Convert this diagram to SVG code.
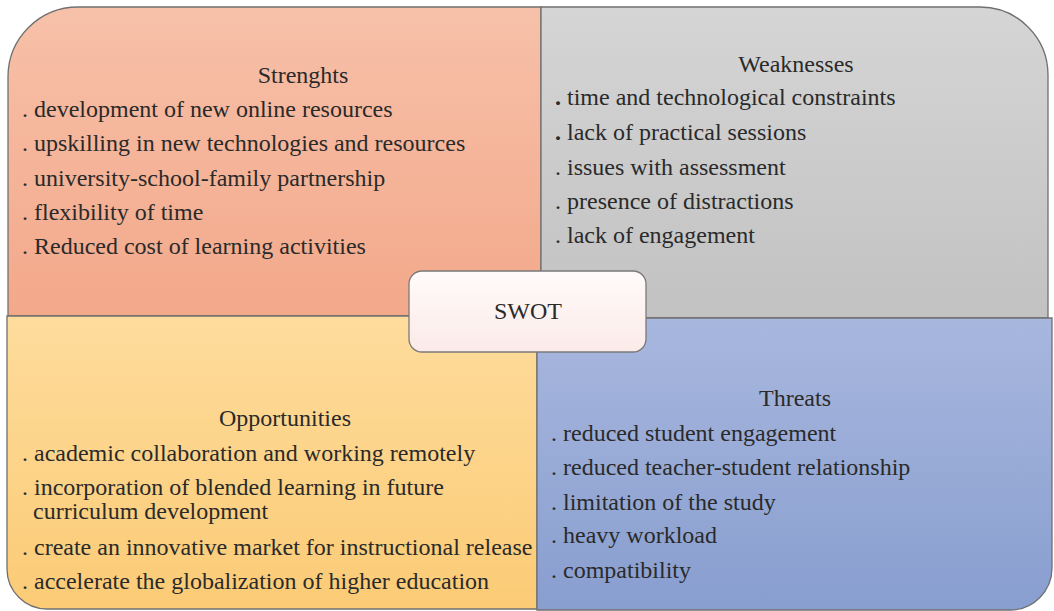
<svg xmlns="http://www.w3.org/2000/svg" width="1054" height="611" viewBox="0 0 1054 611">
  <defs>
    <linearGradient id="gS" x1="0" y1="0" x2="0" y2="1">
      <stop offset="0" stop-color="#f7c1a9"/>
      <stop offset="1" stop-color="#f3a88a"/>
    </linearGradient>
    <linearGradient id="gW" x1="0" y1="0" x2="0" y2="1">
      <stop offset="0" stop-color="#d5d5d5"/>
      <stop offset="1" stop-color="#c2c2c2"/>
    </linearGradient>
    <linearGradient id="gO" x1="0" y1="0" x2="0" y2="1">
      <stop offset="0" stop-color="#fedc9c"/>
      <stop offset="1" stop-color="#fbcb76"/>
    </linearGradient>
    <linearGradient id="gT" x1="0" y1="0" x2="0" y2="1">
      <stop offset="0" stop-color="#a8b7de"/>
      <stop offset="1" stop-color="#889ecf"/>
    </linearGradient>
    <linearGradient id="gC" x1="0" y1="0" x2="0" y2="1">
      <stop offset="0" stop-color="#fffbfa"/>
      <stop offset="1" stop-color="#fbeae8"/>
    </linearGradient>
  </defs>
  <style>
    .quad { stroke: #707070; stroke-width: 1.3; }
    .txt { font-family: "Liberation Serif", serif; font-size: 24px; fill: #2a2a2a; }
    .title { text-anchor: middle; }
    .b { font-weight: bold; }
  </style>

  <!-- Strengths (top left) -->
  <g id="strengths">
    <path class="quad" fill="url(#gS)" d="M8,316 L8,77 A70,70 0 0 1 78,7 L541,7 L541,316 Z"/>
    <text class="txt title" x="303" y="83">Strenghts</text>
    <text class="txt" x="22" y="117">. development of new online resources</text>
    <text class="txt" x="22" y="151">. upskilling in new technologies and resources</text>
    <text class="txt" x="22" y="186">. university-school-family partnership</text>
    <text class="txt" x="22" y="220">. flexibility of time</text>
    <text class="txt" x="22" y="254">. Reduced cost of learning activities</text>
  </g>

  <!-- Weaknesses (top right) -->
  <g id="weaknesses">
    <path class="quad" fill="url(#gW)" d="M541,7 L980,7 A68,68 0 0 1 1048,75 L1048,318 L541,318 Z"/>
    <text class="txt title" x="796" y="72">Weaknesses</text>
    <text class="txt" x="555" y="105"><tspan class="b">.</tspan> time and technological constraints</text>
    <text class="txt" x="555" y="140"><tspan class="b">.</tspan> lack of practical sessions</text>
    <text class="txt" x="555" y="175">. issues with assessment</text>
    <text class="txt" x="555" y="209">. presence of distractions</text>
    <text class="txt" x="555" y="243">. lack of engagement</text>
  </g>

  <!-- Opportunities (bottom left) -->
  <g id="opportunities">
    <path class="quad" fill="url(#gO)" d="M7,316 L537,316 L537,609 L47,609 A40,40 0 0 1 7,569 Z"/>
    <text class="txt title" x="285" y="426">Opportunities</text>
    <text class="txt" x="22" y="461">. academic collaboration and working remotely</text>
    <text class="txt" x="22" y="495">. incorporation of blended learning in future</text>
    <text class="txt" x="33" y="519">curriculum development</text>
    <text class="txt" x="22" y="555">. create an innovative market for instructional release</text>
    <text class="txt" x="22" y="589">. accelerate the globalization of higher education</text>
  </g>

  <!-- Threats (bottom right) -->
  <g id="threats">
    <path class="quad" fill="url(#gT)" d="M537,318 L1052,318 L1052,568 A42,42 0 0 1 1010,610 L537,610 Z"/>
    <text class="txt title" x="795" y="406">Threats</text>
    <text class="txt" x="551" y="441">. reduced student engagement</text>
    <text class="txt" x="551" y="475">. reduced teacher-student relationship</text>
    <text class="txt" x="551" y="510">. limitation of the study</text>
    <text class="txt" x="551" y="543">. heavy workload</text>
    <text class="txt" x="551" y="578">. compatibility</text>
  </g>

  <!-- no connectors in this chart -->
  <g id="connectors"/>

  <!-- central label -->
  <g id="swot">
    <rect x="409" y="271" width="237" height="81" rx="13" ry="13" fill="url(#gC)" stroke="#7a7a7a" stroke-width="1.3"/>
    <text class="txt title" x="528" y="319">SWOT</text>
  </g>
</svg>
